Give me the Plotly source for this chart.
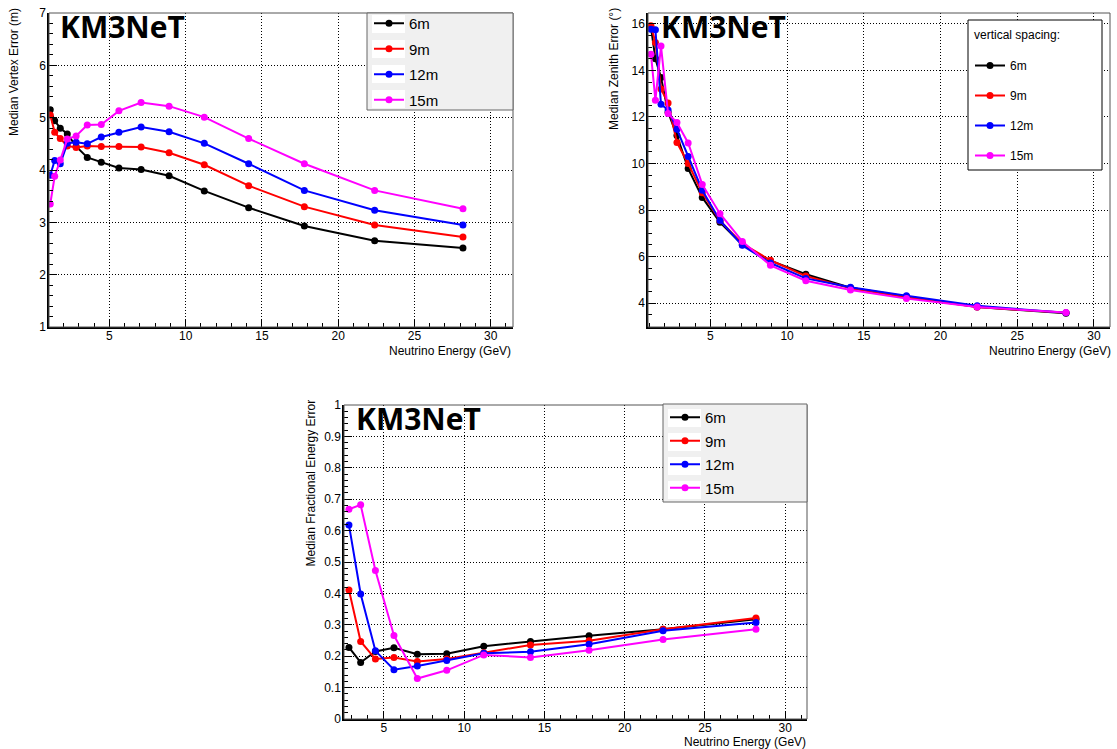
import plotly.graph_objects as go

# ---------------- data ----------------
energy = [1.122, 1.413, 1.778, 2.239, 2.818, 3.548, 4.467, 5.623, 7.079, 8.913,
          11.22, 14.13, 17.78, 22.39, 28.18]
energy_frac = [2.818, 3.548, 4.467, 5.623, 7.079, 8.913, 11.22, 14.13, 17.78, 22.39, 28.18]

series_names = ["6m", "9m", "12m", "15m"]
series_colors = ["#000000", "#ff0000", "#0000ff", "#ff00ff"]

vertex_6m = [5.15, 4.94, 4.80, 4.69, 4.45, 4.24, 4.15, 4.04, 4.01, 3.89, 3.60, 3.28, 2.93, 2.65, 2.51]
vertex_9m = [5.05, 4.72, 4.60, 4.46, 4.43, 4.46, 4.45, 4.45, 4.44, 4.33, 4.10, 3.70, 3.30, 2.95, 2.72]
vertex_12m = [3.90, 4.18, 4.12, 4.51, 4.53, 4.50, 4.63, 4.72, 4.82, 4.73, 4.51, 4.12, 3.61, 3.23, 2.95]
vertex_15m = [3.35, 3.88, 4.19, 4.59, 4.65, 4.86, 4.87, 5.13, 5.29, 5.22, 5.01, 4.60, 4.12, 3.61, 3.26]

zenith_6m = [15.85, 14.50, 13.70, 12.20, 11.20, 9.78, 8.54, 7.47, 6.51, 5.82, 5.24, 4.66, 4.28, 3.83, 3.56]
zenith_9m = [15.92, 15.20, 13.20, 12.60, 10.90, 10.00, 8.74, 7.54, 6.55, 5.84, 5.16, 4.63, 4.25, 3.83, 3.58]
zenith_12m = [15.77, 15.75, 12.55, 12.30, 11.47, 10.30, 8.85, 7.55, 6.48, 5.72, 5.06, 4.68, 4.31, 3.88, 3.58]
zenith_15m = [14.70, 12.72, 15.05, 12.15, 11.76, 10.88, 9.10, 7.84, 6.65, 5.62, 4.96, 4.56, 4.19, 3.83, 3.59]

frac_6m = [0.228, 0.180, 0.215, 0.227, 0.206, 0.208, 0.232, 0.247, 0.265, 0.286, 0.318]
frac_9m = [0.411, 0.247, 0.191, 0.196, 0.183, 0.191, 0.211, 0.236, 0.249, 0.286, 0.322]
frac_12m = [0.618, 0.398, 0.217, 0.157, 0.169, 0.186, 0.209, 0.214, 0.238, 0.281, 0.307]
frac_15m = [0.668, 0.682, 0.473, 0.266, 0.129, 0.155, 0.204, 0.196, 0.219, 0.253, 0.286]

vertex = [vertex_6m, vertex_9m, vertex_12m, vertex_15m]
zenith = [zenith_6m, zenith_9m, zenith_12m, zenith_15m]
frac = [frac_6m, frac_9m, frac_12m, frac_15m]

# ---------------- layout helpers ----------------
W, H = 1117, 749


def fx(px):
    return px / W


def fy(py):
    return 1 - py / H


FONT = "Liberation Sans, Arial, Helvetica, sans-serif"
GRIDDASH = "1px,2px"

fig = go.Figure()

panels = [
    ("x", "y", energy, vertex, "legend"),
    ("x2", "y2", energy, zenith, "legend2"),
    ("x3", "y3", energy_frac, frac, "legend3"),
]

for xa, ya, xs, data, leg in panels:
    for name, col, ys in zip(series_names, series_colors, data):
        fig.add_trace(go.Scatter(
            x=xs, y=ys, mode="lines+markers", name=name,
            line=dict(color=col, width=2),
            marker=dict(color=col, size=7, symbol="circle"),
            xaxis=xa, yaxis=ya, legend=leg, legendgroup=leg + name,
        ))


def xax(domain, rng, anchor):
    return dict(
        domain=domain, range=rng, anchor=anchor,
        tick0=0, dtick=5, ticks="inside", ticklen=8, tickwidth=1, tickcolor="black",
        minor=dict(dtick=1, ticks="inside", ticklen=4, tickcolor="black", showgrid=False),
        showgrid=True, gridcolor="black", griddash=GRIDDASH, gridwidth=1,
        showline=True, linecolor="black", linewidth=1.5, zeroline=False,
        ticklabelstandoff=-3,
        tickfont=dict(family=FONT, size=12, color="black"),
    )


def yax(domain, rng, anchor, dtick, mdtick):
    return dict(
        domain=domain, range=rng, anchor=anchor,
        tick0=0, dtick=dtick, ticks="inside", ticklen=8, tickwidth=1, tickcolor="black",
        minor=dict(dtick=mdtick, ticks="inside", ticklen=4, tickcolor="black", showgrid=False),
        showgrid=True, gridcolor="black", griddash=GRIDDASH, gridwidth=1,
        showline=True, linecolor="black", linewidth=1.5, zeroline=False,
        ticklabelstandoff=-1,
        tickfont=dict(family=FONT, size=12, color="black"),
    )


fig.update_layout(
    width=W, height=H,
    margin=dict(l=0, r=0, t=0, b=0, autoexpand=False),
    paper_bgcolor="white", plot_bgcolor="white",
    showlegend=True,
    xaxis=xax([fx(49), fx(513)], [1.04, 31.46], "y"),
    yaxis=yax([fy(327), fy(13)], [1, 7], "x", 1, 0.2),
    xaxis2=xax([fx(648), fx(1110)], [0.93, 31.05], "y2"),
    yaxis2=yax([fy(327), fy(13)], [2.97, 16.47], "x2", 2, 0.5),
    xaxis3=xax([fx(344), fx(807)], [2.51, 31.36], "y3"),
    yaxis3=yax([fy(719), fy(405)], [0, 1], "x3", 0.1, 0.02),
)

shapes = []
for xa, ya in [("x", "y"), ("x2", "y2"), ("x3", "y3")]:
    shapes.append(dict(type="rect", xref=xa + " domain", yref=ya + " domain",
                       x0=0, x1=1, y0=0, y1=1, line=dict(color="#555555", width=1),
                       fillcolor="rgba(0,0,0,0)", layer="above"))

legend_boxes = [
    (367, 513, 13, 110, "#f0f0f0", "#666666"),
    (968, 1102, 20, 170, "#ffffff", "#000000"),
    (663, 807, 404, 502, "#f0f0f0", "#666666"),
]
for x0, x1, y0, y1, fill, lc in legend_boxes:
    shapes.append(dict(type="rect", xref="paper", yref="paper",
                       x0=fx(x0), x1=fx(x1), y0=fy(y1), y1=fy(y0),
                       fillcolor=fill, line=dict(color=lc, width=1), layer="above"))

# white entry boxes behind the legend samples (grey legends)
for bx0, bx1, centers in [(372, 405, [24, 49, 74, 99]), (668, 701, [418, 442, 466, 490])]:
    for c in centers:
        shapes.append(dict(type="rect", xref="paper", yref="paper",
                           x0=fx(bx0), x1=fx(bx1), y0=fy(c + 9), y1=fy(c - 9),
                           fillcolor="#ffffff", line=dict(width=0), layer="above"))

fig.update_layout(shapes=shapes)

fig.update_layout(
    legend=dict(x=fx(369), y=fy(7), xanchor="left", yanchor="top",
                bgcolor="rgba(0,0,0,0)", borderwidth=0, tracegroupgap=3,
                font=dict(family=FONT, size=15, color="black")),
    legend2=dict(x=fx(970), y=fy(51), xanchor="left", yanchor="top",
                 bgcolor="rgba(0,0,0,0)", borderwidth=0, tracegroupgap=11,
                 font=dict(family=FONT, size=12, color="black")),
    legend3=dict(x=fx(665), y=fy(401), xanchor="left", yanchor="top",
                 bgcolor="rgba(0,0,0,0)", borderwidth=0, tracegroupgap=1,
                 font=dict(family=FONT, size=15, color="black")),
)

annotations = []
for px, py in [(58, 4), (659, 4), (354, 396)]:
    annotations.append(dict(text="<b>KM3NeT</b>", xref="paper", yref="paper",
                            x=fx(px), y=fy(py), xanchor="left", yanchor="top",
                            showarrow=False,
                            font=dict(family="Open Sans, sans-serif", size=30, color="black")))

for px, py in [(513, 351), (1113, 351), (808, 742)]:
    annotations.append(dict(text="Neutrino Energy (GeV)", xref="paper", yref="paper",
                            x=fx(px), y=fy(py), xanchor="right", yanchor="middle",
                            showarrow=False, font=dict(family=FONT, size=12, color="black")))

for txt, px, py in [("Median Vertex Error (m)", 14, 6),
                    ("Median Zenith Error (°)", 614, 6),
                    ("Median Fractional Energy Error", 310, 398)]:
    annotations.append(dict(text=txt, xref="paper", yref="paper", textangle=-90,
                            x=fx(px), y=fy(py), xanchor="center", yanchor="top",
                            showarrow=False, font=dict(family=FONT, size=12, color="black")))

annotations.append(dict(text="vertical spacing:", xref="paper", yref="paper",
                        x=fx(972), y=fy(35), xanchor="left", yanchor="middle",
                        showarrow=False, font=dict(family=FONT, size=12, color="black")))

fig.update_layout(annotations=annotations)

fig.write_html("out.html", config={"displayModeBar": False},
               post_script="document.body.style.margin='0';")
